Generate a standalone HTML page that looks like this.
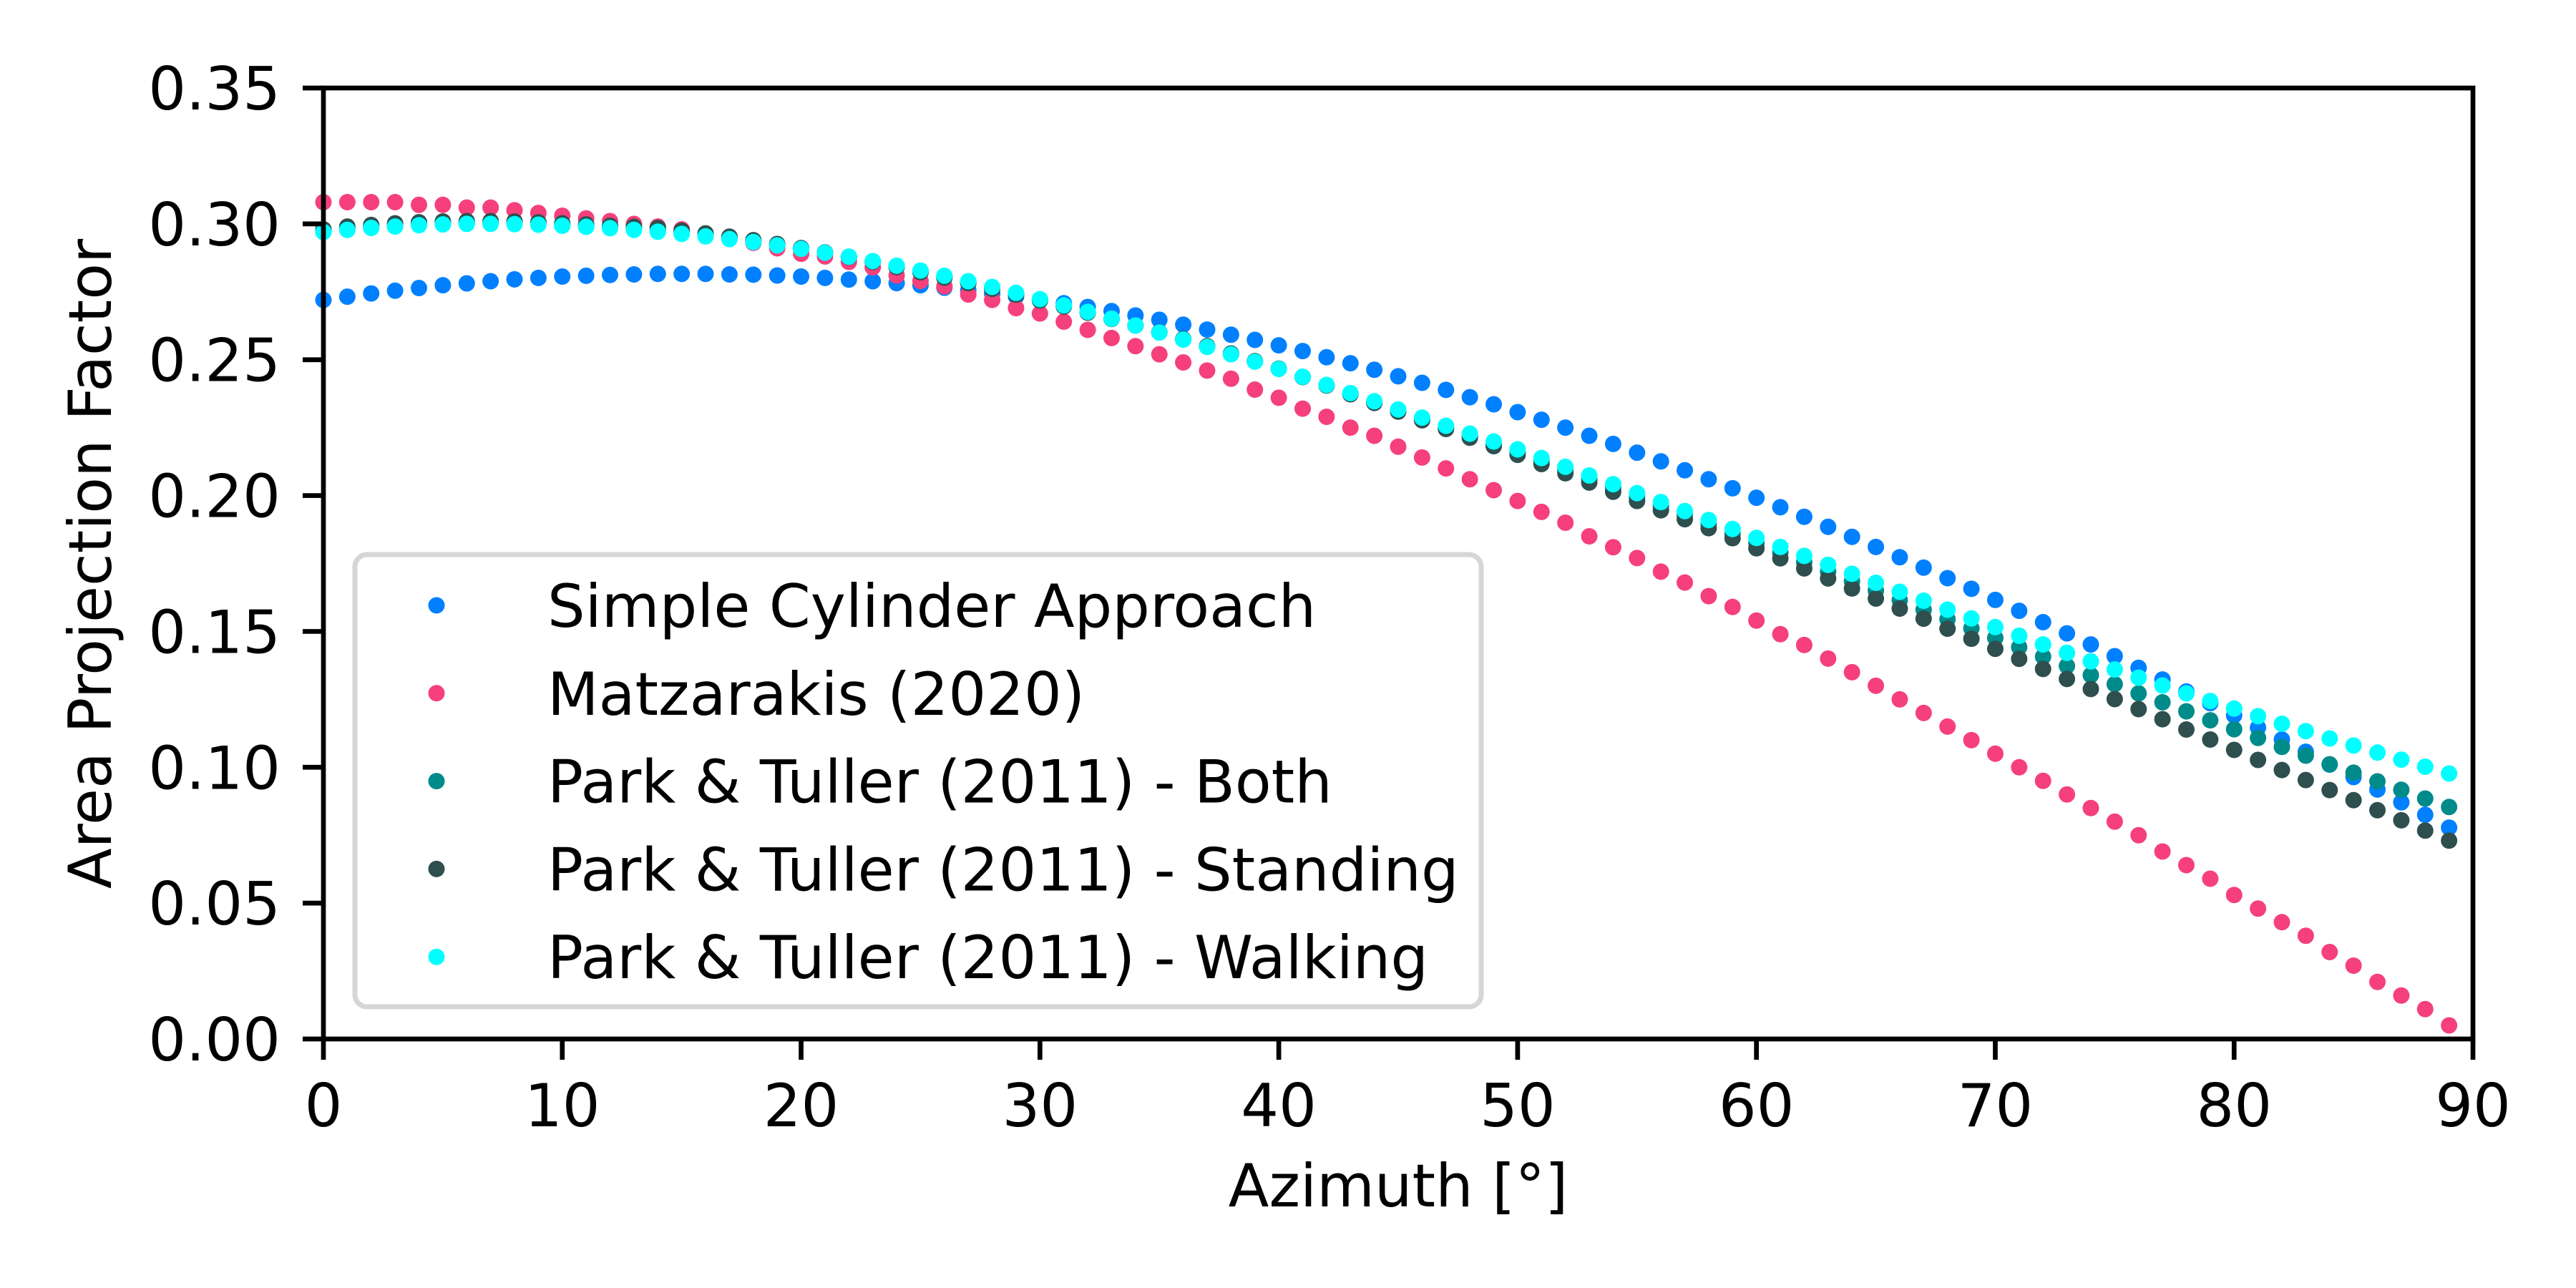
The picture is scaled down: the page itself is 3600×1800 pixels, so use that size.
<!DOCTYPE html>
<html><head><meta charset="utf-8"><style>
html,body{margin:0;padding:0;background:#fff;}
svg{display:block;font-family:"DejaVu Sans","Liberation Sans",sans-serif;}
</style></head><body>
<svg id="chart" width="3600" height="1800" viewBox="0 0 3600 1800" xmlns="http://www.w3.org/2000/svg">
<rect x="0" y="0" width="3600" height="1800" fill="#fff"/>
<g id="marks"></g>
<g id="axes"></g>
<text x="1954" y="1686" font-size="83" text-anchor="middle">Azimuth [°]</text>
<text transform="translate(155,788) rotate(-90)" font-size="83" text-anchor="middle">Area Projection Factor</text>
<g id="legend">
<rect x="496" y="775" width="1574" height="632" rx="17" fill="#fff" stroke="#d6d6d6" stroke-width="7"/>
</g>
</svg>
<script>
const categories = Array.from({length:90},(_,i)=>i);
const seriesNames = ["Simple Cylinder Approach","Matzarakis (2020)","Park & Tuller (2011) - Both","Park & Tuller (2011) - Standing","Park & Tuller (2011) - Walking"];
const seriesColors = ["#0080ff","#f5407c","#008b8b","#2f4f4f","#00ffff"];
const cylinder = [.2720,.2732,.2744,.2754,.2764,.2774,.2781,.2789,.2796,.2801,.2806,.2809,.2812,.2814,.2816,.2816,.2816,.2814,.2813,.2810,.2806,.2801,.2795,.2789,.2782,.2774,.2765,.2755,.2744,.2733,.2721,.2708,.2694,.2679,.2663,.2647,.2629,.2611,.2592,.2573,.2553,.2532,.2509,.2487,.2463,.2439,.2415,.2389,.2362,.2336,.2307,.2279,.2250,.2220,.2190,.2158,.2126,.2093,.2060,.2027,.1992,.1957,.1922,.1885,.1848,.1811,.1773,.1735,.1696,.1657,.1616,.1576,.1534,.1493,.1452,.1409,.1366,.1323,.1279,.1236,.1191,.1146,.1102,.1057,.1010,.0964,.0918,.0871,.0825,.0778];
const matzarakis = [.308,.308,.308,.308,.307,.307,.306,.306,.305,.304,.303,.302,.301,.300,.299,.298,.296,.295,.293,.291,.289,.288,.286,.284,.281,.279,.277,.274,.272,.269,.267,.264,.261,.258,.255,.252,.249,.246,.243,.239,.236,.232,.229,.225,.222,.218,.214,.210,.206,.202,.198,.194,.190,.185,.181,.177,.172,.168,.163,.159,.154,.149,.145,.140,.135,.130,.125,.120,.115,.110,.105,.100,.095,.090,.085,.080,.075,.069,.064,.059,.053,.048,.043,.038,.032,.027,.021,.016,.011,.005];
const parkBoth = [.2975,.2984,.2991,.2996,.3001,.3004,.3005,.3005,.3004,.3002,.2998,.2994,.2989,.2984,.2978,.2969,.2960,.2949,.2937,.2924,.2910,.2895,.2879,.2862,.2844,.2825,.2806,.2786,.2765,.2743,.2721,.2698,.2675,.2651,.2626,.2601,.2575,.2549,.2522,.2494,.2467,.2437,.2406,.2375,.2344,.2313,.2282,.2251,.2221,.2191,.2160,.2127,.2094,.2061,.2028,.1995,.1961,.1928,.1895,.1860,.1825,.1790,.1755,.1720,.1685,.1650,.1615,.1580,.1545,.1511,.1476,.1442,.1407,.1373,.1339,.1306,.1272,.1239,.1206,.1173,.1140,.1108,.1075,.1043,.1011,.0980,.0948,.0917,.0885,.0854];
const parkStanding = [.2980,.2990,.2996,.3002,.3006,.3009,.3010,.3010,.3009,.3006,.3002,.2998,.2993,.2989,.2985,.2975,.2965,.2953,.2940,.2926,.2911,.2895,.2878,.2860,.2841,.2822,.2802,.2782,.2761,.2740,.2718,.2696,.2673,.2650,.2626,.2601,.2576,.2550,.2523,.2495,.2467,.2436,.2405,.2373,.2341,.2309,.2277,.2245,.2213,.2182,.2150,.2116,.2082,.2048,.2014,.1980,.1946,.1913,.1880,.1843,.1806,.1769,.1732,.1695,.1658,.1621,.1584,.1547,.1510,.1473,.1436,.1399,.1362,.1325,.1288,.1251,.1214,.1177,.1139,.1102,.1064,.1027,.0990,.0953,.0916,.0879,.0842,.0805,.0767,.0730];
const parkWalking = [.2970,.2978,.2985,.2990,.2995,.2998,.3000,.3000,.2999,.2997,.2993,.2989,.2984,.2978,.2971,.2963,.2954,.2944,.2933,.2921,.2908,.2894,.2879,.2863,.2846,.2828,.2809,.2789,.2768,.2746,.2723,.2700,.2676,.2651,.2626,.2600,.2574,.2547,.2520,.2493,.2466,.2437,.2407,.2377,.2347,.2317,.2287,.2257,.2228,.2199,.2170,.2138,.2106,.2074,.2042,.2009,.1976,.1943,.1910,.1877,.1844,.1811,.1778,.1745,.1712,.1679,.1646,.1613,.1580,.1548,.1516,.1484,.1452,.1421,.1390,.1360,.1330,.1301,.1272,.1244,.1216,.1188,.1160,.1133,.1106,.1080,.1054,.1028,.1002,.0977];
const xTicks = [0,10,20,30,40,50,60,70,80,90];
const yTicks = [0,0.05,0.10,0.15,0.20,0.25,0.30,0.35];
const yTickLabels = ["0.00","0.05","0.10","0.15","0.20","0.25","0.30","0.35"];

const NS="http://www.w3.org/2000/svg";
const L=452,R=3456,T=123,B=1452;
const xMin=0,xMax=90,yMin=0,yMax=0.35;
function xs(v){return L+(v-xMin)/(xMax-xMin)*(R-L);}
function ys(v){return B-(v-yMin)/(yMax-yMin)*(B-T);}
function mk(tag,attrs,parent){const e=document.createElementNS(NS,tag);for(const k in attrs)e.setAttribute(k,attrs[k]);parent.appendChild(e);return e;}

const marks=document.getElementById('marks');
const allSeries=[cylinder,matzarakis,parkBoth,parkStanding,parkWalking];
const seriesKeys=["cylinder","matzarakis","park-both","park-standing","park-walking"];
allSeries.forEach((arr,si)=>{
  const g=mk('g',{fill:seriesColors[si]},marks);
  
  
  arr.forEach((v,i)=>{
    const c=mk('circle',{cx:xs(categories[i]),cy:ys(v),r:11.5},g);
    
    
  });
});

const axes=document.getElementById('axes');
const frame=mk('rect',{x:L,y:T,width:R-L,height:B-T,fill:'none',stroke:'#000','stroke-width':6.7},axes);


xTicks.forEach(t=>{
  const x=xs(t);
  const ln=mk('line',{x1:x,y1:B,x2:x,y2:B+29,stroke:'#000','stroke-width':6.7},axes);
  
  
  const tx=mk('text',{x:x,y:1574,'font-size':83,'text-anchor':'middle'},axes);
  tx.textContent=String(t);
  
  
});
yTicks.forEach((t,i)=>{
  const y=ys(t);
  const ln=mk('line',{x1:L-29,y1:y,x2:L,y2:y,stroke:'#000','stroke-width':6.7},axes);
  
  
  const tx=mk('text',{x:392,y:y+30,'font-size':83,'text-anchor':'end'},axes);
  tx.textContent=yTickLabels[i];
  
  
});

const legend=document.getElementById('legend');
seriesNames.forEach((n,i)=>{
  const y=846+i*122.8;
  const c=mk('circle',{cx:610,cy:y,r:11.5,fill:seriesColors[i]},legend);
  
  
  const t=mk('text',{x:765,y:y+30,'font-size':83},legend);
  t.textContent=n;
  
  
});
</script>
</body></html>
